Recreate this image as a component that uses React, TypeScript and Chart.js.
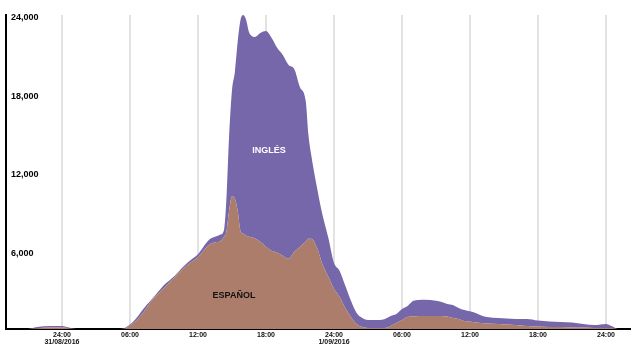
import { useEffect, useRef } from 'react';
import { Chart, registerables } from 'chart.js';

Chart.register(...registerables);

// Time axis in hours from 24:00 of 31/08/2016
const hours = [
  -3, -2.2, -1, 0, 0.7, 1.3, 5, 5.5, 6, 6.5, 7, 7.5, 8, 8.5, 9, 9.5, 10, 10.5, 11, 11.5,
  12, 12.5, 13, 13.5, 14, 14.3, 14.5, 14.75, 15, 15.25, 15.5, 15.75, 16, 16.25, 16.5, 16.75,
  17, 17.5, 18, 18.5, 19, 19.5, 20, 20.5, 21, 21.5, 21.75, 22, 22.5, 23, 23.5, 24, 24.5, 25,
  25.5, 26, 26.5, 27, 28, 28.5, 29, 29.5, 30, 30.5, 31, 31.5, 32, 33, 33.5, 34, 34.5, 35,
  35.5, 36, 36.5, 37, 37.5, 38.5, 40, 41, 42, 43, 44, 45, 46, 47, 48, 48.5, 49,
];

const espanol = [
  0, 60, 110, 110, 40, 0, 0, 20, 270, 610, 1070, 1660, 2270, 2710, 3140, 3580, 4010, 4450, 4830, 5170,
  5490, 6000, 6460, 6620, 6720, 7050, 7400, 9050, 10120, 9970, 9050, 7510, 7280, 7130, 7050, 7000,
  6940, 6670, 6290, 5980, 5830, 5600, 5370, 5900, 6290, 6670, 6900, 6900, 6210, 4910, 3990, 3070, 2450, 1610,
  920, 380, 150, 80, 80, 80, 230, 460, 690, 920, 960, 990, 1000, 1000, 1000, 960, 840, 770,
  610, 580, 500, 460, 420, 380, 310, 230, 190, 150, 150, 120, 120, 80, 80, 80, 0,
];

const ingles = [
  0, 90, 120, 120, 60, 0, 0, 50, 80, 150, 270, 210, 80, 160, 230, 150, 90, 140, 180, 200,
  220, 310, 380, 430, 510, 540, 2410, 5750, 8130, 9660, 12880, 16110, 16720, 16490, 15650, 15390,
  15370, 15950, 16480, 16260, 15640, 15330, 14800, 13960, 12190, 10810, 7900, 6370, 4600, 3760, 2990, 1990, 1990, 1690,
  1230, 840, 690, 610, 610, 690, 770, 690, 840, 840, 1190, 1230, 1230, 1150, 1070, 960, 1000, 840,
  840, 770, 730, 580, 500, 460, 460, 540, 460, 420, 380, 380, 270, 230, 310, 150, 0,
];

const seriesNames = ['ESPAÑOL', 'INGLÉS'];
const xTickHours = [0, 6, 12, 18, 24, 30, 36, 42, 48];
const xTickLabels: (string | string[])[] = [
  ['24:00', '31/08/2016'], '06:00', '12:00', '18:00', ['24:00', '1/09/2016'], '06:00', '12:00', '18:00', '24:00',
];
const yTickValues = [6000, 12000, 18000, 24000];

// Where the series names sit, in data coordinates [hour, value]
const inglesLabelAt = [18.27, 13650];
const espanolLabelAt = [15.18, 2530];

const FONT = '"Liberation Sans", Arial, sans-serif';

const areaLabels = {
  id: 'areaLabels',
  afterDatasetsDraw(chart: any) {
    const { ctx, scales } = chart;
    const x = scales.x;
    const y = scales.y;
    ctx.save();
    ctx.font = `bold 9px ${FONT}`;
    ctx.textAlign = 'center';
    ctx.textBaseline = 'middle';
    ctx.fillStyle = '#ffffff';
    ctx.fillText(seriesNames[1], x.getPixelForValue(inglesLabelAt[0]), y.getPixelForValue(inglesLabelAt[1]));
    ctx.fillStyle = '#111111';
    ctx.fillText(seriesNames[0], x.getPixelForValue(espanolLabelAt[0]), y.getPixelForValue(espanolLabelAt[1]));
    ctx.restore();
  },
};

export default function App() {
  const ref = useRef<HTMLCanvasElement | null>(null);

  useEffect(() => {
    if (!ref.current) return;
    const chart = new Chart(ref.current, {
      type: 'line',
      data: {
        datasets: [
          {
            label: seriesNames[0],
            data: hours.map((h, i) => ({ x: h, y: espanol[i] })),
            backgroundColor: '#ad7d6c',
            borderWidth: 0,
            pointRadius: 0,
            fill: 'origin',
            cubicInterpolationMode: 'monotone',
          },
          {
            label: seriesNames[1],
            data: hours.map((h, i) => ({ x: h, y: ingles[i] })),
            backgroundColor: '#7567a9',
            borderWidth: 0,
            pointRadius: 0,
            fill: '-1',
            cubicInterpolationMode: 'monotone',
          },
        ],
      },
      options: {
        animation: false,
        responsive: true,
        maintainAspectRatio: false,
        layout: { padding: { left: 6, right: 9, top: 15, bottom: 7 } },
        plugins: { legend: { display: false }, tooltip: { enabled: false } },
        scales: {
          x: {
            type: 'linear',
            min: -4.94,
            max: 50.12,
            afterBuildTicks: (s: any) => {
              s.ticks = xTickHours.map((v) => ({ value: v }));
            },
            ticks: {
              autoSkip: false,
              maxRotation: 0,
              padding: 3,
              color: '#111',
              font: { size: 7, weight: 'bold', family: FONT, lineHeight: 1 },
              callback: (v: any) => xTickLabels[xTickHours.indexOf(Number(v))] ?? '',
            },
            grid: { color: '#e2e2e2', lineWidth: 2, drawTicks: false },
            border: { display: true, color: '#000', width: 2 },
          },
          y: {
            type: 'linear',
            stacked: true,
            min: 0,
            max: 24000,
            afterBuildTicks: (s: any) => {
              s.ticks = yTickValues.map((v) => ({ value: v }));
            },
            afterFit: (s: any) => {
              s.width = 0;
            },
            ticks: {
              mirror: true,
              padding: 5,
              labelOffset: 3,
              color: '#000',
              font: { size: 9, weight: 'bold', family: FONT },
              callback: (v: any) => Number(v).toLocaleString('en-US'),
            },
            grid: { display: false, drawTicks: false },
            border: { display: true, color: '#000', width: 2 },
          },
        },
      },
      plugins: [areaLabels],
    });
    return () => chart.destroy();
  }, []);

  return (
    <div style={{ position: 'absolute', left: 0, top: 0, width: 639, height: 356, background: '#fff' }}>
      <canvas ref={ref} />
    </div>
  );
}
